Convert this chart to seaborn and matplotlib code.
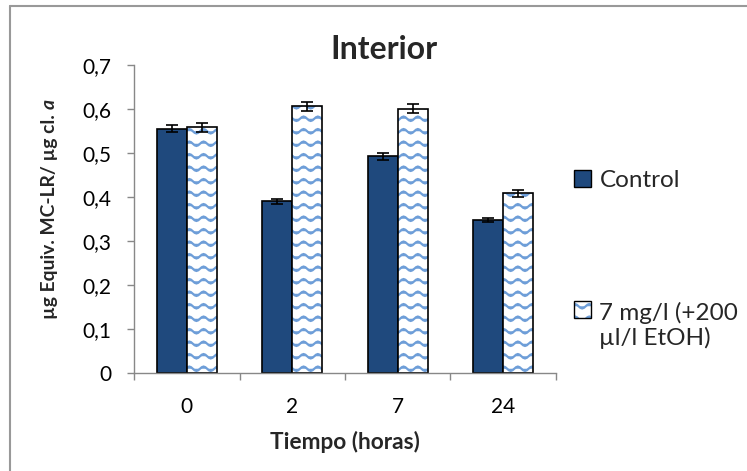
import warnings
import numpy as np
import pandas as pd
import matplotlib
matplotlib.use("Agg")
import matplotlib.pyplot as plt
import matplotlib.hatch as mhatch
from matplotlib.path import Path
from matplotlib.lines import Line2D
from matplotlib.patches import Patch, Rectangle
from matplotlib.legend_handler import HandlerPatch
import matplotlib.colors as mcolors
import seaborn as sns

warnings.filterwarnings("ignore")

# ---- data ----
categories = ["0", "2", "7", "24"]
series_names = ["Control", "7 mg/l (+200\nµl/l EtOH)"]
control_vals = [0.555, 0.390, 0.493, 0.348]
control_err = [0.008, 0.005, 0.008, 0.005]
treat_vals = [0.558, 0.606, 0.601, 0.408]
treat_err = [0.011, 0.011, 0.011, 0.008]
yticks = [0, 0.1, 0.2, 0.3, 0.4, 0.5, 0.6, 0.7]
ytick_labels = ["0", "0,1", "0,2", "0,3", "0,4", "0,5", "0,6", "0,7"]


# ---- custom wavy hatch ----
class WaveHatch(mhatch.HatchPatternBase):
    npts = 57

    def __init__(self, hatch, density):
        self.num_lines = 8 if "~" in hatch else 0
        self.num_vertices = self.num_lines * self.npts

    def set_vertices_and_codes(self, vertices, codes):
        xs = np.linspace(0, 1, self.npts)
        steps = (np.arange(self.num_lines) + 0.5) / self.num_lines
        for i, s in enumerate(steps):
            sl = slice(i * self.npts, (i + 1) * self.npts)
            vertices[sl, 0] = xs
            vertices[sl, 1] = s + 0.022 * np.sin(2 * np.pi * 7 * xs)
            codes[sl] = Path.LINETO
            codes[i * self.npts] = Path.MOVETO


mhatch._hatch_types.append(WaveHatch)

sns.set_theme(style="white")
plt.rcParams["font.family"] = ["Lato", "DejaVu Sans"]
plt.rcParams["hatch.linewidth"] = 1.6

df = pd.DataFrame({
    "Tiempo": categories * 2,
    "value": control_vals + treat_vals,
    "serie": [series_names[0]] * 4 + [series_names[1]] * 4,
})

fig = plt.figure(figsize=(7.47, 4.71), dpi=100)
ax = fig.add_axes([0.1794, 0.2081, 0.7443 - 0.1794, 0.862 - 0.2081])

sns.barplot(data=df, x="Tiempo", y="value", hue="serie", order=categories,
            hue_order=series_names, palette=["#1F497D", "white"],
            width=0.57, errorbar=None, edgecolor="black", linewidth=1.2,
            saturation=1, legend=False, ax=ax)

hatch_col = mcolors.to_rgba("#6e9ed8")
bars = list(ax.patches)
n = len(categories)
for i, p in enumerate(bars):
    if i >= n:
        p.set_hatch("~")
        p._hatch_color = hatch_col

# error bars
for k, (vals, errs) in enumerate([(control_vals, control_err), (treat_vals, treat_err)]):
    ps = bars[k * n:(k + 1) * n]
    xs = [p.get_x() + p.get_width() / 2 for p in ps]
    ax.errorbar(xs, vals, yerr=errs, fmt="none", ecolor="black",
                elinewidth=1.2, capsize=4, capthick=1.2, zorder=5)

ax.set_ylim(0, 0.7)
ax.set_xlim(-0.5, 3.5)
ax.set_yticks(yticks)
ax.set_yticklabels(ytick_labels)
ax.set_xticks(range(n))
ax.set_xticklabels(categories)
ax.set_xticks(np.arange(-0.5, n, 1.0), minor=True)
ax.tick_params(axis="x", which="major", length=0, pad=17, labelsize=15, colors="black")
ax.tick_params(axis="x", which="minor", length=5, width=1, color="#888888", bottom=True, direction="out")
ax.tick_params(axis="y", length=5, width=1, color="#888888", left=True, direction="out",
               labelsize=15, pad=11, labelcolor="black")
for s in ["top", "right"]:
    ax.spines[s].set_visible(False)
for s in ["left", "bottom"]:
    ax.spines[s].set_color("#888888")
    ax.spines[s].set_linewidth(1.0)

ax.set_xlabel("Tiempo (horas)", fontsize=16.3, fontweight="bold")
ax.xaxis.set_label_coords(0.5, -0.224)
ax.xaxis.label.set_va("center")

# y label: bold text, with the final "a" in bold italic
ax.set_ylabel("µg Equiv. MC-LR/ µg cl.", fontsize=13.9, fontweight="bold")
ax.yaxis.set_label_coords(-0.201, 0.508)
ax.yaxis.label.set_va("center")
ax.annotate("a", xy=(0.5, 1.0), xycoords=ax.yaxis.label, xytext=(0, 3.5),
            textcoords="offset points", rotation=90, ha="center", va="bottom",
            fontsize=13.9, fontweight="bold", fontstyle="italic")

ax.set_title("Interior", fontsize=23, fontweight="bold", x=0.592, y=1.0195,
             pad=0, va="baseline")


# legend: square aligned with the first line of its label
def make_handler(lines_up):
    def patch_func(legend, orig_handle, xdescent, ydescent, width, height, fontsize):
        return Rectangle((-xdescent, -ydescent + lines_up * 1.2 * fontsize), width, height)
    return HandlerPatch(patch_func=patch_func)


handles = [Patch(facecolor="#1F497D", edgecolor="black", linewidth=1.0),
           Patch(facecolor="white", edgecolor="black", linewidth=1.0, hatch="~")]
handles[1]._hatch_color = hatch_col
leg = fig.legend(handles, series_names, loc="upper left",
                 bbox_to_anchor=(0.739, 0.6855), frameon=False, fontsize=17.5,
                 labelspacing=4.55, handlelength=0.7, handleheight=0.7,
                 handletextpad=0.35,
                 handler_map={handles[0]: make_handler(0), handles[1]: make_handler(0.55)})

# chart area border (left and top only visible)
fig.add_artist(Line2D([10 / 747, 10 / 747], [0, 1 - 6 / 471], transform=fig.transFigure,
                      color="#999999", lw=1.5))
fig.add_artist(Line2D([10 / 747, 1], [1 - 6 / 471, 1 - 6 / 471], transform=fig.transFigure,
                      color="#999999", lw=1.5))

fig.savefig("out.png", dpi=100)
